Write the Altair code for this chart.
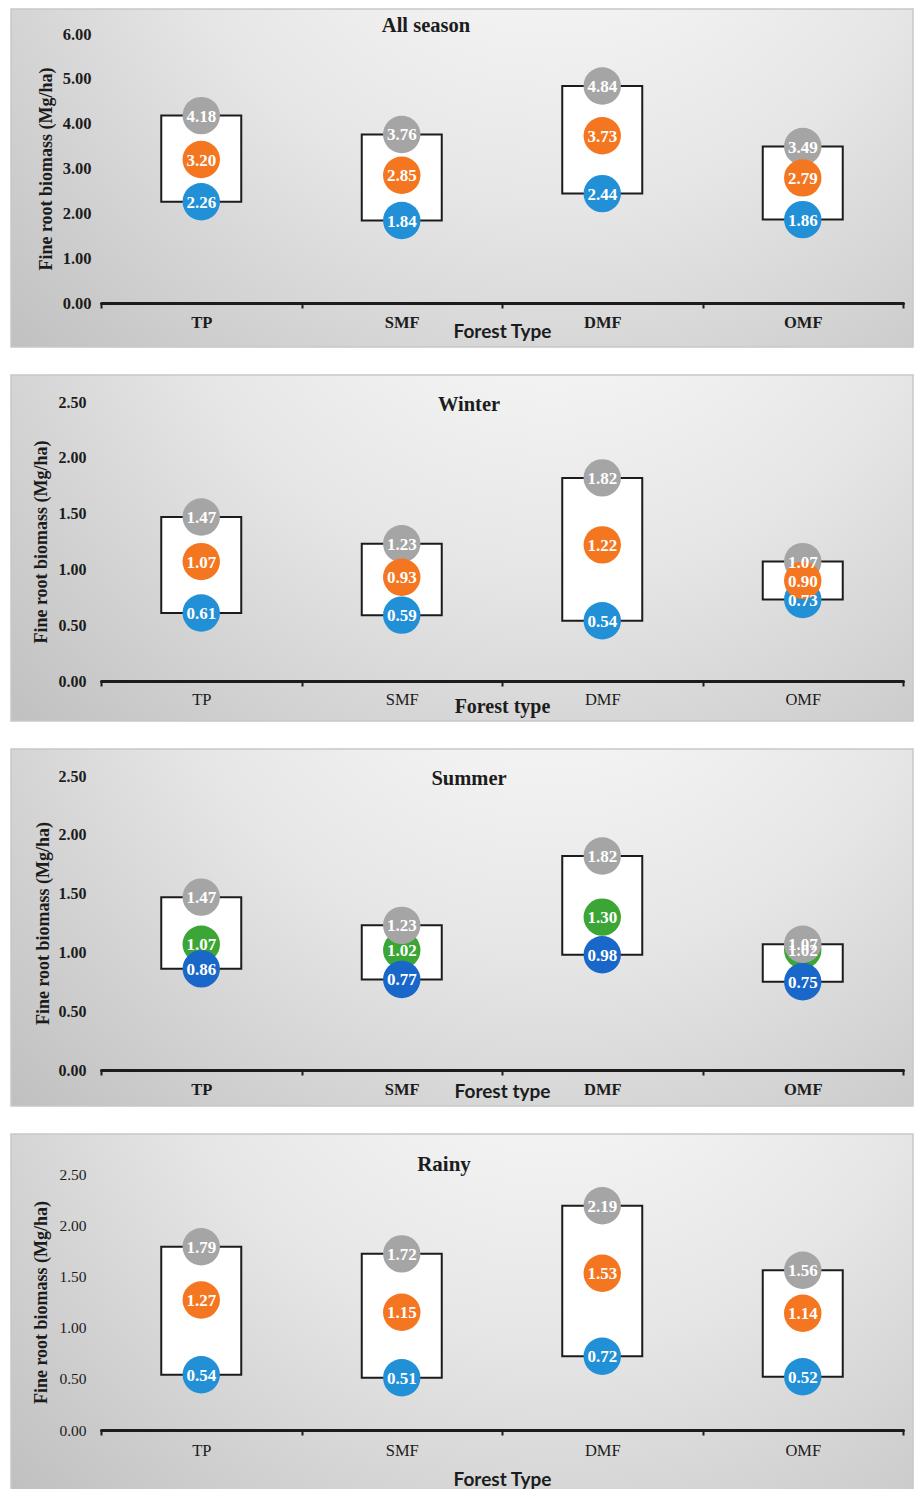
import altair as alt
import pandas as pd

# Forest types on the x axis
forest_types = ["TP", "SMF", "DMF", "OMF"]

# Fine root biomass (Mg/ha): minimum, mean and maximum per forest type
all_min = [2.26, 1.84, 2.44, 1.86]
all_mean = [3.20, 2.85, 3.73, 2.79]
all_max = [4.18, 3.76, 4.84, 3.49]

winter_min = [0.61, 0.59, 0.54, 0.73]
winter_mean = [1.07, 0.93, 1.22, 0.90]
winter_max = [1.47, 1.23, 1.82, 1.07]

summer_min = [0.86, 0.77, 0.98, 0.75]
summer_mean = [1.07, 1.02, 1.30, 1.02]
summer_max = [1.47, 1.23, 1.82, 1.07]

rainy_min = [0.54, 0.51, 0.72, 0.52]
rainy_mean = [1.27, 1.15, 1.53, 1.14]
rainy_max = [1.79, 1.72, 2.19, 1.56]

ticks_all = [0, 1, 2, 3, 4, 5, 6]
ticks_season = [0, 0.5, 1.0, 1.5, 2.0, 2.5]

SERIF = "Liberation Serif"
SANS = "Lato"
GRAY = "#a5a5a5"
ORANGE = "#f47620"
BLUE = "#2190d6"
GREEN = "#3ba535"
DARK_BLUE = "#1867c9"
INK = "#1c1c1c"

PLOT_W = 802

background_fill = alt.Gradient(
    gradient="radial",
    stops=[
        alt.GradientStop(offset=0, color="#ffffff"),
        alt.GradientStop(offset=0.45, color="#e6e6e6"),
        alt.GradientStop(offset=1, color="#b3b3b3"),
    ],
    x1=0.6, y1=0.08, r1=0,
    x2=0.6, y2=0.08, r2=1.0,
)


def panel(title, mins, means, maxs, ymax, yticks, height, bg_top, bg_bottom,
          title_x, title_y, title_size, mean_color, min_color, order,
          xlabel_weight, xlabel_dy, xtitle, xtitle_font, xtitle_size, xtitle_dy,
          ylabel_weight, ylabel_size, ylabel_pad, ytitle_x):
    df = pd.DataFrame({"forest": forest_types, "lo": mins, "mid": means, "hi": maxs})
    one = pd.DataFrame({"k": [0]})

    x_axis = alt.Axis(
        labelAngle=0, labelFont=SERIF, labelFontSize=16.5, labelFontWeight=xlabel_weight,
        labelColor=INK, labelBaseline="middle", labelPadding=xlabel_dy - 5,
        domainColor=INK, domainWidth=3, domainCap="round",
        tickColor=INK, tickWidth=2, tickSize=5, tickBand="extent",
        grid=False, title=xtitle, titleFont=xtitle_font, titleFontSize=xtitle_size,
        titleFontWeight="bold", titleColor=INK, titleBaseline="middle",
        titleY=xtitle_dy, zindex=1,
    )
    x = alt.X("forest:N", sort=forest_types,
              scale=alt.Scale(domain=forest_types, paddingInner=0, paddingOuter=0),
              axis=x_axis)
    y_scale = alt.Scale(domain=[0, ymax], nice=False, zero=True)
    y_axis = alt.Axis(
        values=yticks, format=".2f", domain=False, ticks=False, grid=False,
        labelFont=SERIF, labelFontSize=ylabel_size, labelFontWeight=ylabel_weight,
        labelColor=INK, labelPadding=ylabel_pad,
        title="Fine root biomass (Mg/ha)", titleFont=SERIF, titleFontSize=18,
        titleFontWeight="bold", titleColor=INK, titleX=ytitle_x, titleY=height / 2,
        titleAlign="center", titleBaseline="middle", zindex=1,
    )

    bg = alt.Chart(one).mark_rect(
        fill=background_fill, stroke="#c8c8c8", strokeWidth=1.5
    ).encode(
        x=alt.value(-90), x2=alt.value(812), y=alt.value(bg_top), y2=alt.value(bg_bottom)
    )

    box = alt.Chart(df).mark_bar(
        width=80, fill="white", stroke=INK, strokeWidth=2
    ).encode(x=x, y=alt.Y("lo:Q", scale=y_scale, axis=y_axis), y2="hi:Q")

    colors = {"lo": min_color, "mid": mean_color, "hi": GRAY}
    dots = [
        alt.Chart(df).mark_circle(size=1400, opacity=1, color=colors[s]).encode(
            x=x, y=alt.Y(f"{s}:Q", scale=y_scale, axis=y_axis)
        )
        for s in order
    ]
    labels = [
        alt.Chart(df).mark_text(
            font=SERIF, fontWeight="bold", fontSize=17, color="white", baseline="middle", dy=1
        ).encode(
            x=x, y=alt.Y(f"{s}:Q", scale=y_scale, axis=y_axis),
            text=alt.Text(f"{s}:Q", format=".2f"),
        )
        for s in order
    ]

    heading = alt.Chart(one).mark_text(
        text=title, font=SERIF, fontWeight="bold", fontSize=title_size, color=INK,
        baseline="middle"
    ).encode(x=alt.value(title_x), y=alt.value(title_y))

    return alt.layer(bg, box, *dots, *labels, heading).properties(
        width=PLOT_W, height=height
    )


p_all = panel("All season", all_min, all_mean, all_max, 6, ticks_all, 269, -25, 313,
              325, -8, 20.5, ORANGE, BLUE, ["hi", "mid", "lo"],
              "bold", 19, "Forest Type", SANS, 19, 28,
              "bold", 16.5, 10, -55)

p_winter = panel("Winter", winter_min, winter_mean, winter_max, 2.5, ticks_season, 279, -27, 319,
                 368, 3, 20.5, ORANGE, BLUE, ["hi", "lo", "mid"],
                 "normal", 18, "Forest type", SERIF, 20, 25,
                 "bold", 16, 15, -60)

p_summer = panel("Summer", summer_min, summer_mean, summer_max, 2.5, ticks_season, 294, -27, 330,
                 368, 3, 20.5, GREEN, DARK_BLUE, ["mid", "hi", "lo"],
                 "bold", 19, "Forest type", SANS, 19, 21,
                 "bold", 16, 15, -58)

p_rainy = panel("Rainy", rainy_min, rainy_mean, rainy_max, 2.5, ticks_season, 256, -40, 317,
                343, -9, 21, ORANGE, BLUE, ["hi", "mid", "lo"],
                "normal", 20, "Forest Type", SANS, 19, 49,
                "normal", 15.5, 15, -60)

chart = alt.vconcat(p_all, p_winter, p_summer, p_rainy, spacing=26).resolve_scale(
    x="independent", y="independent"
).properties(
    padding={"left": 10, "top": 8, "right": 0, "bottom": 0},
    background="white",
).configure_view(stroke=None)

chart.save("out.html", embed_options={"renderer": "svg", "actions": False})
